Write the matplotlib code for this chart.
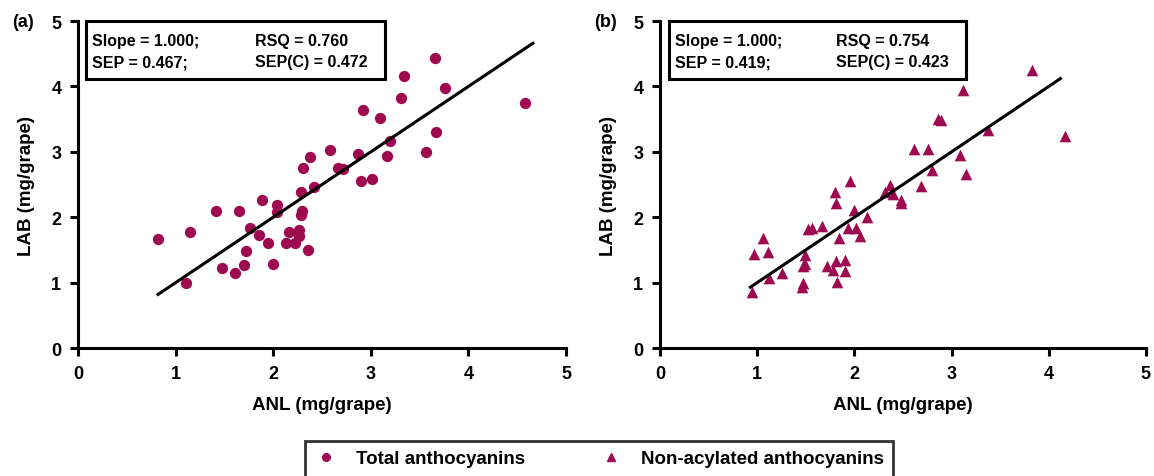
import numpy as np
import matplotlib
matplotlib.use('Agg')
import matplotlib.pyplot as plt
import matplotlib.patches as mpatches
from matplotlib.lines import Line2D

plt.rcParams['font.family'] = ['Liberation Sans', 'DejaVu Sans']
plt.rcParams['font.weight'] = 'bold'

# (a) total anthocyanins: ANL vs LAB (mg/grape)
anl_total = [0.82, 1.15, 1.11, 1.41, 1.48, 1.61, 1.65, 1.70, 1.72, 1.76,
             1.85, 1.89, 1.95, 2.00, 2.04, 2.04, 2.13, 2.16, 2.22, 2.26,
             2.26, 2.28, 2.29, 2.28, 2.30, 2.36, 2.38, 2.42, 2.58, 2.66,
             2.71, 2.87, 2.90, 2.92, 3.01, 3.09, 3.17, 3.20, 3.31, 3.34,
             3.57, 3.67, 3.66, 3.76, 4.58]
lab_total = [1.66, 1.77, 1.00, 2.09, 1.22, 1.15, 2.09, 1.27, 1.49, 1.83,
             1.73, 2.26, 1.61, 1.29, 2.19, 2.08, 1.60, 1.78, 1.60, 1.80,
             1.71, 2.38, 2.10, 2.04, 2.75, 1.50, 2.92, 2.46, 3.03, 2.75,
             2.73, 2.96, 2.56, 3.64, 2.59, 3.52, 2.94, 3.17, 3.82, 4.16,
             2.99, 3.31, 4.43, 3.98, 3.75]
fit_total = [0.82, 4.66]

# (b) non-acylated anthocyanins
anl_nonacyl = [0.95, 0.97, 1.06, 1.11, 1.12, 1.26, 1.46, 1.47, 1.47, 1.49,
               1.49, 1.52, 1.56, 1.67, 1.72, 1.78, 1.81, 1.82, 1.80, 1.81,
               1.84, 1.90, 1.90, 1.96, 1.93, 2.00, 2.02, 2.06, 2.13, 2.32,
               2.37, 2.40, 2.48, 2.48, 2.69, 2.61, 2.76, 2.80, 2.86, 2.89,
               3.09, 3.15, 3.12, 3.38, 3.83, 4.17]
lab_nonacyl = [0.85, 1.44, 1.68, 1.47, 1.07, 1.15, 0.93, 1.00, 1.26, 1.42,
               1.29, 1.82, 1.84, 1.86, 1.26, 1.20, 1.33, 1.01, 2.38, 2.21,
               1.68, 1.35, 1.18, 2.55, 1.84, 2.11, 1.84, 1.71, 2.00, 2.38,
               2.49, 2.36, 2.26, 2.21, 2.47, 3.04, 3.04, 2.72, 3.50, 3.49,
               2.95, 2.66, 3.95, 3.33, 4.25, 3.24]
fit_nonacyl = [0.93, 4.12]

stats_total = ['Slope = 1.000;', 'RSQ = 0.760', 'SEP = 0.467;', 'SEP(C) = 0.472']
stats_nonacyl = ['Slope = 1.000;', 'RSQ = 0.754', 'SEP = 0.419;', 'SEP(C) = 0.423']

ticks = [0, 1, 2, 3, 4, 5]
color = '#9E0A50'

fig = plt.figure(figsize=(11.54, 4.77), dpi=100)
ax1 = fig.add_axes([0.0676, 0.2683, 0.4229, 0.6855])
ax2 = fig.add_axes([0.5719, 0.2683, 0.4211, 0.6855])


def style_axes(ax, label, stats, box_left, box_right):
    ax.set_xlim(0, 5)
    ax.set_ylim(0, 5)
    ax.set_xticks(ticks)
    ax.set_yticks(ticks)
    for s in ['top', 'right']:
        ax.spines[s].set_visible(False)
    for s in ['left', 'bottom']:
        ax.spines[s].set_linewidth(2.2)
    ax.tick_params(width=2.2, length=6, labelsize=13, direction='out', pad=6)
    ax.set_xlabel('ANL (mg/grape)', fontsize=13.5, fontweight='bold', labelpad=10)
    ax.set_ylabel('LAB (mg/grape)', fontsize=13.5, fontweight='bold', labelpad=12)
    ax.text(-0.135, 1.0, label, transform=ax.transAxes, fontsize=13,
            fontweight='bold', ha='left', va='center')
    rect = mpatches.Rectangle((box_left, 0.823), box_right - box_left, 0.177,
                              transform=ax.transAxes, fill=True, facecolor='white',
                              edgecolor='black', linewidth=2.2, clip_on=False, zorder=5)
    ax.add_patch(rect)
    tx = box_left + 0.012
    for i, (col_x, row_y) in enumerate([(tx, 0.939), (0.363, 0.939),
                                        (tx, 0.875), (0.363, 0.875)]):
        ax.text(col_x, row_y, stats[i], transform=ax.transAxes, fontsize=11.5,
                va='center', ha='left', zorder=6)


ax1.scatter(anl_total, lab_total, s=66, marker='o', color=color, linewidths=0, zorder=3)
ax1.plot(fit_total, fit_total, color='black', linewidth=2.2, zorder=4)
style_axes(ax1, '(a)', stats_total, 0.016, 0.629)

ax2.scatter(anl_nonacyl, lab_nonacyl, s=70, marker='^', color=color, linewidths=0, zorder=3)
ax2.plot(fit_nonacyl, fit_nonacyl, color='black', linewidth=2.2, zorder=4)
style_axes(ax2, '(b)', stats_nonacyl, 0.0185, 0.63)

handles = [Line2D([], [], marker='o', linestyle='none', color=color, markersize=5.5),
           Line2D([], [], marker='^', linestyle='none', color=color, markersize=5.5)]
leg = fig.legend(handles, ['Total anthocyanins', 'Non-acylated anthocyanins'],
                 loc='upper left', bbox_to_anchor=(305 / 1154, 1 - 442 / 477),
                 borderaxespad=0, ncol=2, fontsize=13.5, frameon=True, fancybox=False,
                 borderpad=0.5, handletextpad=1.0, columnspacing=4.0,
                 handlelength=1.2)
leg.get_frame().set_edgecolor('black')
leg.get_frame().set_linewidth(2)

fig.savefig('out.png', dpi=100)
